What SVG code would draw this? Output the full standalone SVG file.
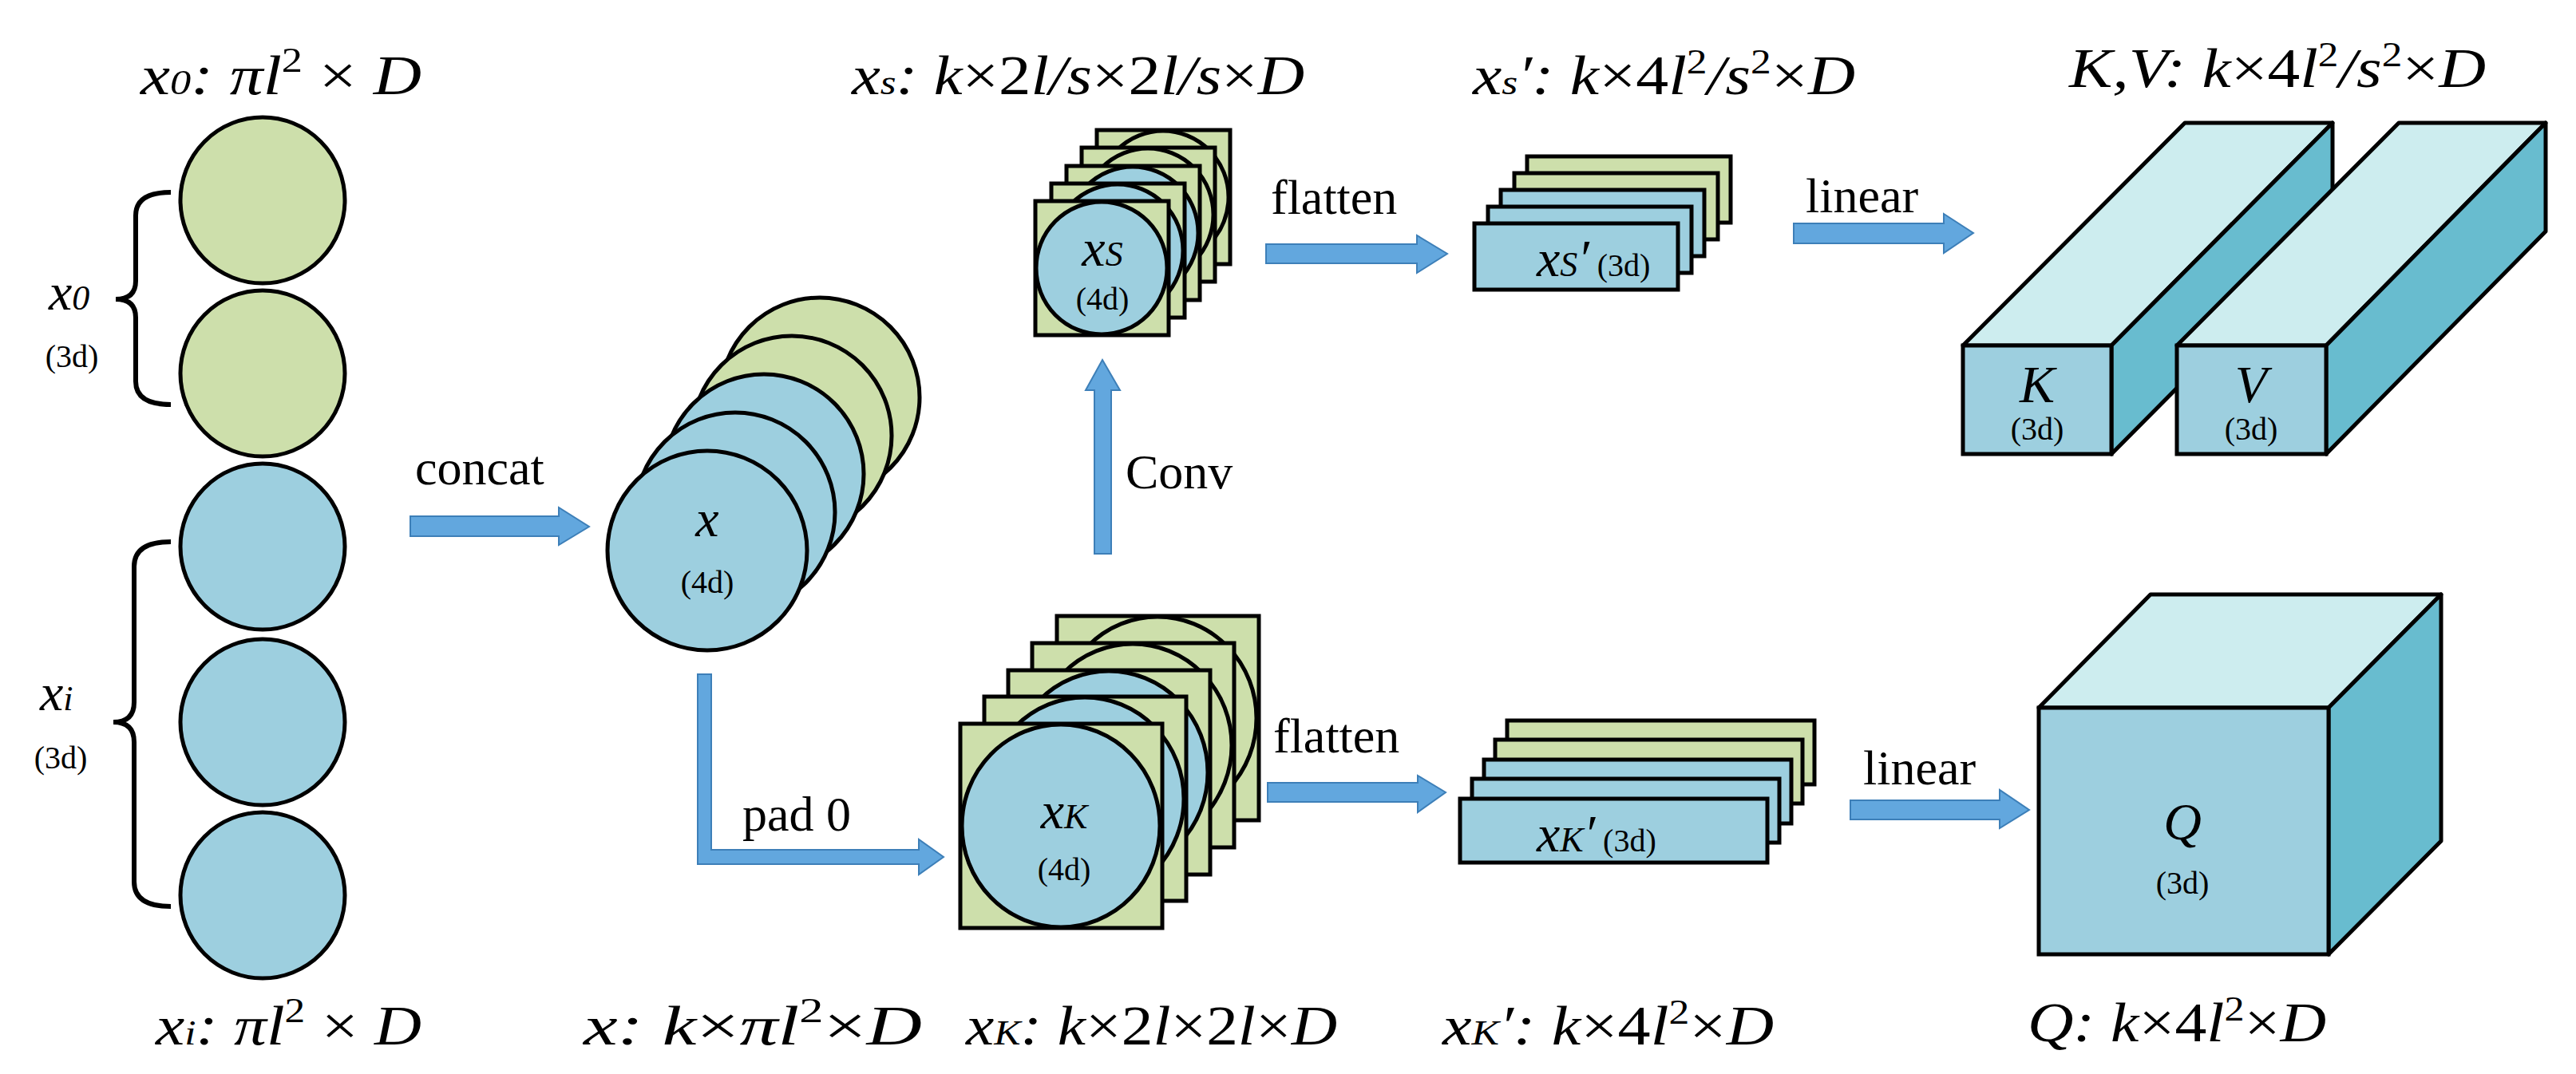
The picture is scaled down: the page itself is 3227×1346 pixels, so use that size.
<svg xmlns="http://www.w3.org/2000/svg" width="3227" height="1346" viewBox="0 0 3227 1346">
<style>
.g{fill:#cddfab;stroke:#000;stroke-width:5}
.b{fill:#9dcfdf;stroke:#000;stroke-width:5}
.top{fill:#cdedef;stroke:#000;stroke-width:5;stroke-linejoin:round}
.side{fill:#68bccf;stroke:#000;stroke-width:5;stroke-linejoin:round}
.arr{fill:#62a7de;stroke:#3d7fb8;stroke-width:2}
.brace{fill:none;stroke:#000;stroke-width:6}
text{font-family:"Liberation Serif","DejaVu Serif",serif;fill:#000}
.lab{font-size:70px;font-style:italic}
.op{font-size:62px}
.d{font-size:40px}
.v{font-size:66px;font-style:italic}
.sub{font-size:44px}
</style>
<rect width="3227" height="1346" fill="#fff"/>

<g id="x0">
<ellipse class="g" cx="329" cy="251" rx="103" ry="104"/>
<ellipse class="g" cx="329" cy="468" rx="103" ry="104"/>
<path class="brace" d="M214,241 Q170,241 170,270 L170,352 Q170,375 145,375 Q170,375 170,398 L170,478 Q170,507 214,507"/>
<text class="v" x="61" y="388">x<tspan class="sub">0</tspan></text>
<text class="d" x="90" y="460" text-anchor="middle">(3d)</text>
<text class="lab" x="176" y="118" textLength="352" lengthAdjust="spacingAndGlyphs">x<tspan class="sub">0</tspan>: πl<tspan font-size="44" dy="-28" font-style="normal">2</tspan><tspan dy="28" font-style="normal"> × </tspan>D</text>
</g>

<g id="xi">
<ellipse class="b" cx="329" cy="685" rx="103" ry="104"/>
<ellipse class="b" cx="329" cy="905" rx="103" ry="104"/>
<ellipse class="b" cx="329" cy="1122" rx="103" ry="104"/>
<path class="brace" d="M214,679 Q168,679 168,710 L168,880 Q168,905 142,905 Q168,905 168,930 L168,1105 Q168,1136 214,1136"/>
<text class="v" x="50" y="890">x<tspan class="sub">i</tspan></text>
<text class="d" x="76" y="963" text-anchor="middle">(3d)</text>
<text class="lab" x="195" y="1309" textLength="333" lengthAdjust="spacingAndGlyphs">x<tspan class="sub">i</tspan>: πl<tspan font-size="44" dy="-28" font-style="normal">2</tspan><tspan dy="28" font-style="normal"> × </tspan>D</text>
</g>

<g id="x">
<ellipse class="g" cx="1027" cy="498" rx="125" ry="125"/>
<ellipse class="g" cx="992" cy="546" rx="125" ry="125"/>
<ellipse class="b" cx="957" cy="594" rx="125" ry="125"/>
<ellipse class="b" cx="921" cy="642" rx="125" ry="125"/>
<ellipse class="b" cx="886" cy="690" rx="125" ry="125"/>
<text class="v" x="886" y="672" text-anchor="middle">x</text>
<text class="d" x="886" y="743" text-anchor="middle">(4d)</text>
<text class="lab" x="731" y="1309" textLength="424" lengthAdjust="spacingAndGlyphs">x: k<tspan font-style="normal">×</tspan>πl<tspan font-size="44" dy="-28" font-style="normal">2</tspan><tspan dy="28" font-style="normal">×</tspan>D</text>
</g>

<g id="xK">
<rect class="g" x="1324" y="772" width="253" height="256"/><ellipse class="g" cx="1450" cy="900" rx="124" ry="127"/>
<rect class="g" x="1293" y="806" width="253" height="256"/><ellipse class="g" cx="1419" cy="934" rx="124" ry="127"/>
<rect class="g" x="1263" y="840" width="253" height="256"/><ellipse class="b" cx="1389" cy="968" rx="124" ry="127"/>
<rect class="g" x="1233" y="873" width="253" height="256"/><ellipse class="b" cx="1359" cy="1001" rx="124" ry="127"/>
<rect class="g" x="1203" y="907" width="253" height="256"/><ellipse class="b" cx="1329" cy="1035" rx="124" ry="127"/>
<text class="v" x="1333" y="1038" text-anchor="middle">x<tspan class="sub">K</tspan></text>
<text class="d" x="1333" y="1103" text-anchor="middle">(4d)</text>
<text class="lab" x="1210" y="1309" textLength="465" lengthAdjust="spacingAndGlyphs">x<tspan class="sub">K</tspan>: k<tspan font-style="normal">×2</tspan>l<tspan font-style="normal">×2</tspan>l<tspan font-style="normal">×</tspan>D</text>
</g>

<g id="xs">
<rect class="g" x="1374" y="163" width="167" height="168"/><ellipse class="g" cx="1457" cy="247" rx="82" ry="83"/>
<rect class="g" x="1355" y="185" width="167" height="168"/><ellipse class="g" cx="1438" cy="269" rx="82" ry="83"/>
<rect class="g" x="1336" y="208" width="167" height="168"/><ellipse class="b" cx="1419" cy="292" rx="82" ry="83"/>
<rect class="g" x="1317" y="230" width="167" height="168"/><ellipse class="b" cx="1400" cy="314" rx="82" ry="83"/>
<rect class="g" x="1297" y="252" width="167" height="168"/><ellipse class="b" cx="1380" cy="336" rx="82" ry="83"/>
<text class="v" x="1381" y="333" text-anchor="middle">x<tspan class="sub">S</tspan></text>
<text class="d" x="1381" y="388" text-anchor="middle">(4d)</text>
<text class="lab" x="1067" y="118" textLength="567" lengthAdjust="spacingAndGlyphs">x<tspan class="sub">s</tspan>: k<tspan font-style="normal">×2</tspan>l/s<tspan font-style="normal">×2</tspan>l/s<tspan font-style="normal">×</tspan>D</text>
</g>

<g id="xsp">
<rect class="g" x="1913" y="196" width="255" height="83"/>
<rect class="g" x="1897" y="217" width="255" height="83"/>
<rect class="b" x="1880" y="238" width="255" height="83"/>
<rect class="b" x="1864" y="259" width="255" height="83"/>
<rect class="b" x="1847" y="280" width="255" height="83"/>
<text class="v" x="1925" y="346">x<tspan class="sub">S</tspan>′<tspan class="d" font-style="normal"> (3d)</tspan></text>
<text class="lab" x="1845" y="118" textLength="479" lengthAdjust="spacingAndGlyphs">x<tspan class="sub">s</tspan>′: k<tspan font-style="normal">×4</tspan>l<tspan font-size="44" dy="-26" font-style="normal">2</tspan><tspan dy="26">/s</tspan><tspan font-size="44" dy="-26" font-style="normal">2</tspan><tspan dy="26" font-style="normal">×</tspan>D</text>
</g>

<g id="xKp">
<rect class="g" x="1888" y="903" width="385" height="80"/>
<rect class="g" x="1873" y="927" width="385" height="80"/>
<rect class="b" x="1859" y="952" width="385" height="80"/>
<rect class="b" x="1844" y="976" width="385" height="80"/>
<rect class="b" x="1829" y="1001" width="385" height="80"/>
<text class="v" x="1925" y="1067">x<tspan class="sub">K</tspan>′<tspan class="d" font-style="normal"> (3d)</tspan></text>
<text class="lab" x="1807" y="1309" textLength="415" lengthAdjust="spacingAndGlyphs">x<tspan class="sub">K</tspan>′: k<tspan font-style="normal">×4</tspan>l<tspan font-size="44" dy="-26" font-style="normal">2</tspan><tspan dy="26" font-style="normal">×</tspan>D</text>
</g>

<g id="K">
<polygon class="top" points="2459,433 2737,154 2922,154 2645,433"/>
<polygon class="side" points="2645,433 2922,154 2922,290 2645,569"/>
<rect class="b" x="2459" y="433" width="186" height="136"/>
<text class="v" x="2552" y="504" text-anchor="middle">K</text>
<text class="d" x="2552" y="551" text-anchor="middle">(3d)</text>
</g>
<g id="V">
<polygon class="top" points="2727,433 3005,154 3189,154 2914,433"/>
<polygon class="side" points="2914,433 3189,154 3189,290 2914,569"/>
<rect class="b" x="2727" y="433" width="187" height="136"/>
<text class="v" x="2820" y="504" text-anchor="middle">V</text>
<text class="d" x="2820" y="551" text-anchor="middle">(3d)</text>
<text class="lab" x="2592" y="109" textLength="522" lengthAdjust="spacingAndGlyphs">K,V: k<tspan font-style="normal">×4</tspan>l<tspan font-size="44" dy="-26" font-style="normal">2</tspan><tspan dy="26">/s</tspan><tspan font-size="44" dy="-26" font-style="normal">2</tspan><tspan dy="26" font-style="normal">×</tspan>D</text>
</g>

<g id="Q">
<polygon class="top" points="2554,887 2694,745 3058,745 2917,887"/>
<polygon class="side" points="2917,887 3058,745 3058,1054 2917,1196"/>
<rect class="b" x="2554" y="887" width="363" height="309"/>
<text class="v" x="2734" y="1052" text-anchor="middle" font-size="80">Q</text>
<text class="d" x="2734" y="1120" text-anchor="middle">(3d)</text>
<text class="lab" x="2540" y="1305" textLength="374" lengthAdjust="spacingAndGlyphs">Q: k<tspan font-style="normal">×4</tspan>l<tspan font-size="44" dy="-26" font-style="normal">2</tspan><tspan dy="26" font-style="normal">×</tspan>D</text>
</g>

<g id="connectors">
<polygon class="arr" points="514,647 700,647 700,636 738,660 700,683 700,672 514,672"/>
<text class="op" x="520" y="607">concat</text>
<polygon class="arr" points="874,845 891,845 891,1065 1151,1065 1151,1052 1182,1074 1151,1096 1151,1083 874,1083"/>
<text class="op" x="930" y="1041">pad 0</text>
<polygon class="arr" points="1371,694 1371,489 1360,489 1381,451 1403,489 1392,489 1392,694"/>
<text class="op" x="1410" y="612">Conv</text>
<polygon class="arr" points="1586,306 1775,306 1775,295 1813,318 1775,342 1775,330 1586,330"/>
<text class="op" x="1592" y="268">flatten</text>
<polygon class="arr" points="1588,981 1776,981 1776,972 1811,993 1776,1018 1776,1005 1588,1005"/>
<text class="op" x="1595" y="943">flatten</text>
<polygon class="arr" points="2247,280 2435,280 2435,268 2472,292 2435,317 2435,305 2247,305"/>
<text class="op" x="2262" y="266">linear</text>
<polygon class="arr" points="2318,1003 2505,1003 2505,990 2542,1015 2505,1038 2505,1027 2318,1027"/>
<text class="op" x="2334" y="983">linear</text>
</g>
</svg>
